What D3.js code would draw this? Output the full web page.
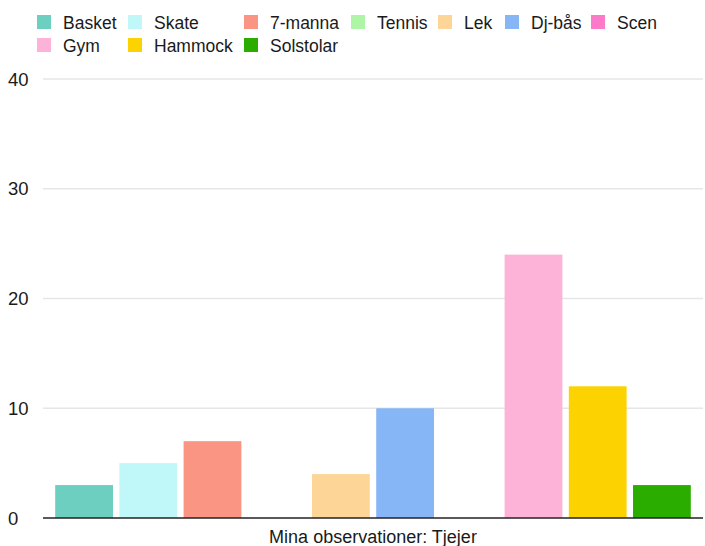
<!DOCTYPE html>
<html><head><meta charset="utf-8">
<script src="https://cdn.jsdelivr.net/npm/d3@7"></script>
<style>body{margin:0;background:#fff;} text{font-family:"Liberation Sans",Arial,Helvetica,sans-serif;}</style>
</head><body>
<svg id="c" width="705" height="546"></svg>
<script>
const categories = ["Basket","Skate","7-manna","Tennis","Lek","Dj-bås","Scen","Gym","Hammock","Solstolar"];
const values = [3,5,7,0,4,10,0,24,12,3];
const colors = ["#6dcfbf","#c0f7f8","#f99582","#aef5a5","#fcd597","#87b6f6","#fd7ac8","#fdb3d8","#fcd200","#2bad00"];
const yTicks = [0,10,20,30,40];
const xTitle = "Mina observationer: Tjejer";

const svg = d3.select("#c");
const m = {l:43, r:703, t:79, b:518};
const x = d3.scaleBand().domain(categories).range([m.l, m.r]).paddingInner(0.1).paddingOuter(0.19);
const y = d3.scaleLinear().domain([0,40]).range([m.b, m.t]);

// grid
svg.append("g").selectAll("line").data(yTicks.filter(d=>d>0)).join("line")
  .attr("x1", m.l).attr("x2", m.r).attr("y1", d=>y(d)).attr("y2", d=>y(d))
  .attr("stroke", "#e6e6e6").attr("stroke-width", 1.5);
// y labels
svg.append("g").selectAll("text").data(yTicks).join("text")
  .attr("x", 8).attr("y", d=>y(d)+6.5).text(d=>d)
  .attr("font-size", 18.5).attr("fill", "#1a1a1a");

// bars
svg.append("g").selectAll("rect").data(categories).join("rect")
  .attr("x", d=>x(d)).attr("width", x.bandwidth())
  .attr("y", (d,i)=>y(values[i])).attr("height", (d,i)=>y(0)-y(values[i]))
  .attr("fill", (d,i)=>colors[i]);

// baseline
svg.append("line").attr("x1", m.l).attr("x2", m.r).attr("y1", y(0)).attr("y2", y(0))
  .attr("stroke", "#222").attr("stroke-width", 1.5);

// x title
svg.append("text").attr("x", 373).attr("y", 543).attr("text-anchor","middle")
  .attr("font-size", 18).attr("fill", "#1a1a1a").text(xTitle);

// legend
const legendX = [37,128,244,351,438,505,591];
const leg = svg.append("g");
categories.forEach((c,i)=>{
  const row = i < 7 ? 0 : 1;
  const col = i < 7 ? i : i-7;
  const lx = legendX[col], ly = row===0 ? 15 : 38;
  leg.append("rect").attr("x", lx).attr("y", ly).attr("width", 14).attr("height", 14).attr("fill", colors[i]);
  leg.append("text").attr("x", lx+26).attr("y", ly+13.5).attr("font-size", 17.5).attr("fill","#1a1a1a").text(c);
});
</script>
</body></html>
